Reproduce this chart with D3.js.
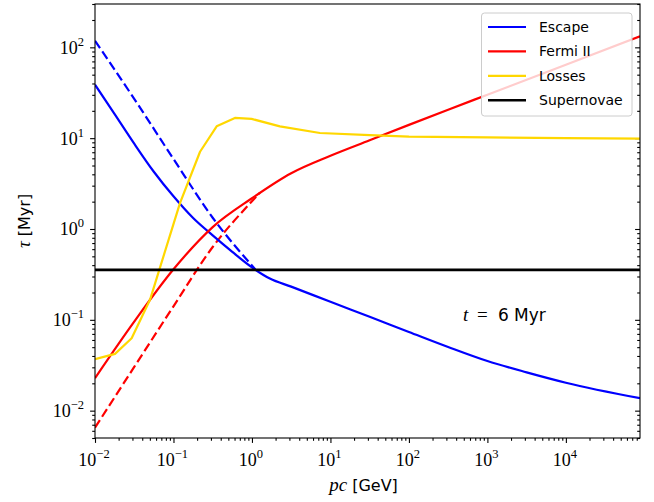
<!DOCTYPE html>
<html><head><meta charset="utf-8">
<script src="https://cdn.jsdelivr.net/npm/d3@7"></script>
<style>body{margin:0;background:#fff}</style>
</head><body>
<svg id="c" width="654" height="502"></svg>
<script>
// ---- data ----
const pcEscape  = [0.01, 0.0178, 0.0316, 0.0562, 0.1, 0.178, 0.316, 0.562, 1, 1.69, 3.16, 10, 31.6, 100, 316, 1000, 3162, 10000, 88000];
const tauEscape = [38.8, 18.4, 8.7, 4.27, 2.29, 1.32, 0.85, 0.56, 0.378, 0.285, 0.232, 0.158, 0.108, 0.0736, 0.0503, 0.0352, 0.0264, 0.0203, 0.0137];
const pcEscapeDash  = [0.01, 0.0316, 0.1, 0.316, 1.1];
const tauEscapeDash = [118, 27.1, 5.9, 1.33, 0.36];
const pcFermi  = [0.01, 0.0316, 0.1, 0.316, 1, 3.16, 10, 31.6, 100, 316, 1000, 10000, 88000];
const tauFermi = [0.0228, 0.0955, 0.36, 1.05, 2.18, 4.11, 6.4, 9.47, 14.0, 20.6, 30.1, 64.3, 132];
const pcFermiDash  = [0.01, 0.0316, 0.1, 0.316, 1, 1.26];
const tauFermiDash = [0.0065, 0.0303, 0.141, 0.634, 2.02, 2.5];
const pcLosses  = [0.01, 0.018, 0.0293, 0.0502, 0.121, 0.218, 0.355, 0.607, 0.991, 2.27, 7.35, 31.8, 100, 1000, 10000, 88000];
const tauLosses = [0.0368, 0.0422, 0.0627, 0.166, 1.93, 7.09, 13.5, 16.7, 16.3, 13.5, 11.4, 10.8, 10.4, 10.2, 10.0, 9.86];
const tauSupernovae = 0.355;
const xDomain = [0.01, 8.8e4];
const yDomain = [0.005, 300];
const xTickExps = [-2, -1, 0, 1, 2, 3, 4];
const yTickExps = [-2, -1, 0, 1, 2];
const legendLabels = ["Escape", "Fermi II", "Losses", "Supernovae"];
const legendColors = ["#0000ff", "#ff0000", "#ffd700", "#000000"];
const annotation = {pc: 487, tau: 0.113, t: "t", eq: "=", rest: "6 Myr"};

// ---- layout ----
const L = 95, R = 640, T = 4, B = 438;
const svg = d3.select("#c");
const x = d3.scaleLog().domain(xDomain).range([L, R]);
const y = d3.scaleLog().domain(yDomain).range([B, T]);

function minors(dom) {
  const out = [];
  for (let e = Math.floor(Math.log10(dom[0])) - 1; e <= Math.ceil(Math.log10(dom[1])); e++)
    for (let k = 2; k <= 9; k++) { const v = k * Math.pow(10, e); if (v >= dom[0] && v <= dom[1]) out.push(v); }
  return out;
}
const xMaj = xTickExps.map(e => Math.pow(10, e));
const yMaj = yTickExps.map(e => Math.pow(10, e));

svg.append("defs").append("clipPath").attr("id", "clip")
  .append("rect").attr("x", L).attr("y", T).attr("width", R - L).attr("height", B - T);

function styleAxis(g) {
  g.select(".domain").remove();
  g.selectAll("line").attr("stroke", "#000").attr("stroke-width", 1.1);
}
// bottom
svg.append("g").attr("transform", `translate(0,${B})`).call(d3.axisBottom(x).tickValues(xMaj).tickSize(4.9).tickFormat("")).call(styleAxis);
svg.append("g").attr("transform", `translate(0,${B})`).call(d3.axisBottom(x).tickValues(minors(xDomain)).tickSize(2.8).tickFormat("")).call(styleAxis);
// left
svg.append("g").attr("transform", `translate(${L},0)`).call(d3.axisLeft(y).tickValues(yMaj).tickSize(4.9).tickFormat("")).call(styleAxis);
svg.append("g").attr("transform", `translate(${L},0)`).call(d3.axisLeft(y).tickValues(minors(yDomain)).tickSize(2.8).tickFormat("")).call(styleAxis);
// right (inward)
svg.append("g").attr("transform", `translate(${R},0)`).call(d3.axisLeft(y).tickValues(yMaj).tickSize(4.9).tickFormat("")).call(styleAxis);
svg.append("g").attr("transform", `translate(${R},0)`).call(d3.axisLeft(y).tickValues(minors(yDomain)).tickSize(2.8).tickFormat("")).call(styleAxis);

const serif = "'Liberation Serif', 'DejaVu Serif', serif";
const sans = "'DejaVu Sans', sans-serif";
function expStr(e) { return e < 0 ? "\u2212" + Math.abs(e) : String(e); }

// x tick labels
const xl = svg.append("g").selectAll("text").data(xTickExps).join("text")
  .attr("x", e => x(Math.pow(10, e)) - 1).attr("y", 466)
  .attr("text-anchor", "middle").attr("font-family", serif).attr("font-size", 18).attr("fill", "#000");
xl.append("tspan").text("10");
xl.append("tspan").attr("dy", -8).attr("font-size", 12.5).text(e => expStr(e));
// y tick labels
const yl = svg.append("g").selectAll("text").data(yTickExps).join("text")
  .attr("x", 84).attr("y", e => y(Math.pow(10, e)) + 6.5)
  .attr("text-anchor", "end").attr("font-family", serif).attr("font-size", 18).attr("fill", "#000");
yl.append("tspan").text("10");
yl.append("tspan").attr("dy", -8).attr("font-size", 12.5).text(e => expStr(e));

// axis labels
const xlab = svg.append("text").attr("x", (L + R) / 2 - 4).attr("y", 491).attr("text-anchor", "middle").attr("font-size", 16);
xlab.append("tspan").attr("font-family", serif).attr("font-style", "italic").attr("font-size", 19).text("pc");
xlab.append("tspan").attr("font-family", sans).text(" [GeV]");
const ylab = svg.append("text").attr("transform", `translate(30,${(T + B) / 2}) rotate(-90)`).attr("text-anchor", "middle").attr("font-size", 16);
ylab.append("tspan").attr("font-family", serif).attr("font-style", "italic").attr("font-size", 19).text("\u03c4");
ylab.append("tspan").attr("font-family", sans).text(" [Myr]");

// lines
const plot = svg.append("g").attr("clip-path", "url(#clip)");
const line = d3.line().x(d => x(d[0])).y(d => y(d[1]));
const smooth = d3.line().x(d => x(d[0])).y(d => y(d[1])).curve(d3.curveMonotoneX);
function zip(a, b) { return a.map((v, i) => [v, b[i]]); }
plot.append("path").attr("d", smooth(zip(pcEscapeDash, tauEscapeDash))).attr("fill", "none").attr("stroke", legendColors[0]).attr("stroke-width", 2.2).attr("stroke-dasharray", "9,4");
plot.append("path").attr("d", smooth(zip(pcFermiDash, tauFermiDash))).attr("fill", "none").attr("stroke", legendColors[1]).attr("stroke-width", 2.2).attr("stroke-dasharray", "9,4");
plot.append("path").attr("d", smooth(zip(pcEscape, tauEscape))).attr("fill", "none").attr("stroke", legendColors[0]).attr("stroke-width", 2.2);
plot.append("path").attr("d", smooth(zip(pcFermi, tauFermi))).attr("fill", "none").attr("stroke", legendColors[1]).attr("stroke-width", 2.2);
plot.append("path").attr("d", line(zip(pcLosses, tauLosses))).attr("fill", "none").attr("stroke", legendColors[2]).attr("stroke-width", 2.2).attr("stroke-linejoin", "round");
plot.append("path").attr("d", line([[xDomain[0], tauSupernovae], [xDomain[1], tauSupernovae]])).attr("fill", "none").attr("stroke", legendColors[3]).attr("stroke-width", 2.6);

// spines
svg.append("rect").attr("x", L).attr("y", T).attr("width", R - L).attr("height", B - T)
  .attr("fill", "none").attr("stroke", "#000").attr("stroke-width", 1.1);

// annotation
const ax0 = x(annotation.pc), ay0 = y(annotation.tau) + 6;
const ann = svg.append("g");
ann.append("text").attr("x", ax0).attr("y", ay0).attr("font-family", serif).attr("font-style", "italic").attr("font-size", 19).text(annotation.t);
ann.append("text").attr("x", ax0 + 14).attr("y", ay0).attr("font-family", serif).attr("font-size", 19).text(annotation.eq);
ann.append("text").attr("x", ax0 + 35).attr("y", ay0).attr("font-family", sans).attr("font-size", 17).text(annotation.rest);

// legend
const lg = svg.append("g");
lg.append("rect").attr("x", 481.5).attr("y", 13).attr("width", 150.5).attr("height", 103).attr("rx", 3)
  .attr("fill", "#fff").attr("fill-opacity", 0.8).attr("stroke", "#cccccc").attr("stroke-width", 1);
const rows = lg.selectAll("g.row").data(legendLabels).join("g").attr("class", "row")
  .attr("transform", (d, i) => `translate(0,${27 + i * 24.4})`);
rows.append("line").attr("x1", 488).attr("x2", 526).attr("y1", 0).attr("y2", 0)
  .attr("stroke", (d, i) => legendColors[i]).attr("stroke-width", (d, i) => i === 3 ? 2.6 : 2.2);
rows.append("text").attr("x", 539).attr("y", 5).attr("font-family", sans).attr("font-size", 14).text(d => d);
</script>
</body></html>
